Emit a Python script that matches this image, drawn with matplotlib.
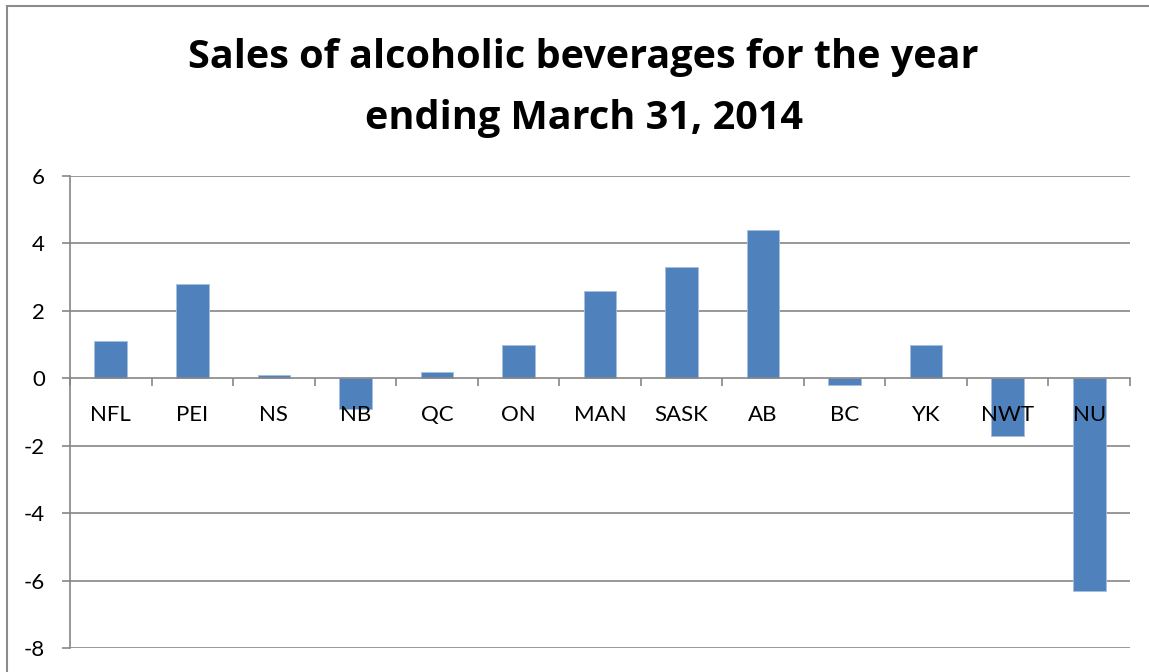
import matplotlib
matplotlib.use("Agg")
import matplotlib.pyplot as plt
from matplotlib.patches import Rectangle

# chart data
provinces = ["NFL", "PEI", "NS", "NB", "QC", "ON", "MAN", "SASK", "AB", "BC", "YK", "NWT", "NU"]
sales_change = [1.1, 2.8, 0.1, -0.9, 0.2, 1.0, 2.6, 3.3, 4.4, -0.2, 1.0, -1.7, -6.3]
y_ticks = [-8, -6, -4, -2, 0, 2, 4, 6]

plt.rcParams["font.family"] = ["Lato", "DejaVu Sans"]
grid_grey = "#868686"

fig = plt.figure(figsize=(11.49, 6.72), dpi=100)

# outer chart border like Excel's chart area
fig.patches.append(Rectangle((7 / 1149, -0.1), 1.2, 0.1 + 1 - 6 / 672,
                             transform=fig.transFigure, fill=False,
                             edgecolor="#8c8c8c", linewidth=1.5))

ax = fig.add_axes([70 / 1149, 1 - 648 / 672, 1060 / 1149, (648 - 176) / 672])

# gridlines by hand so they sit below the bars, labels stay on top
for v in y_ticks:
    if v != 0:
        ax.axhline(v, color=grid_grey, linewidth=1.2, zorder=1)

x = list(range(len(provinces)))
ax.bar(x, sales_change, width=0.4, color="#4F81BD", edgecolor="#a7c0de",
       linewidth=0.6, zorder=2)

ax.set_xlim(-0.5, len(provinces) - 0.5)
ax.set_ylim(-8, 6)
ax.set_yticks(y_ticks)
ax.set_yticklabels([str(v) for v in y_ticks])

# category labels at centres, tick marks at boundaries
ax.set_xticks(x)
ax.set_xticklabels(provinces)
ax.set_xticks([i - 0.5 for i in x] + [len(provinces) - 0.5], minor=True)
ax.tick_params(axis="x", which="major", length=0, pad=19, labelsize=16)
ax.tick_params(axis="x", which="minor", length=6, width=1.2, color=grid_grey, direction="out")
ax.tick_params(axis="y", length=6, width=1.2, color=grid_grey, pad=12, labelsize=16)

ax.spines["bottom"].set_position(("data", 0))
ax.spines["bottom"].set_color(grid_grey)
ax.spines["bottom"].set_linewidth(1.2)
ax.spines["left"].set_color(grid_grey)
ax.spines["left"].set_linewidth(1.2)
ax.spines["top"].set_visible(False)
ax.spines["right"].set_visible(False)
ax.set_axisbelow(False)

fig.text(0.508, 1 - 88 / 672, "Sales of alcoholic beverages for the year\nending March 31, 2014",
         ha="center", va="center", fontsize=28.5, fontweight="bold",
         family=["Open Sans", "DejaVu Sans"], linespacing=1.75)

fig.savefig("out.png", dpi=100)
